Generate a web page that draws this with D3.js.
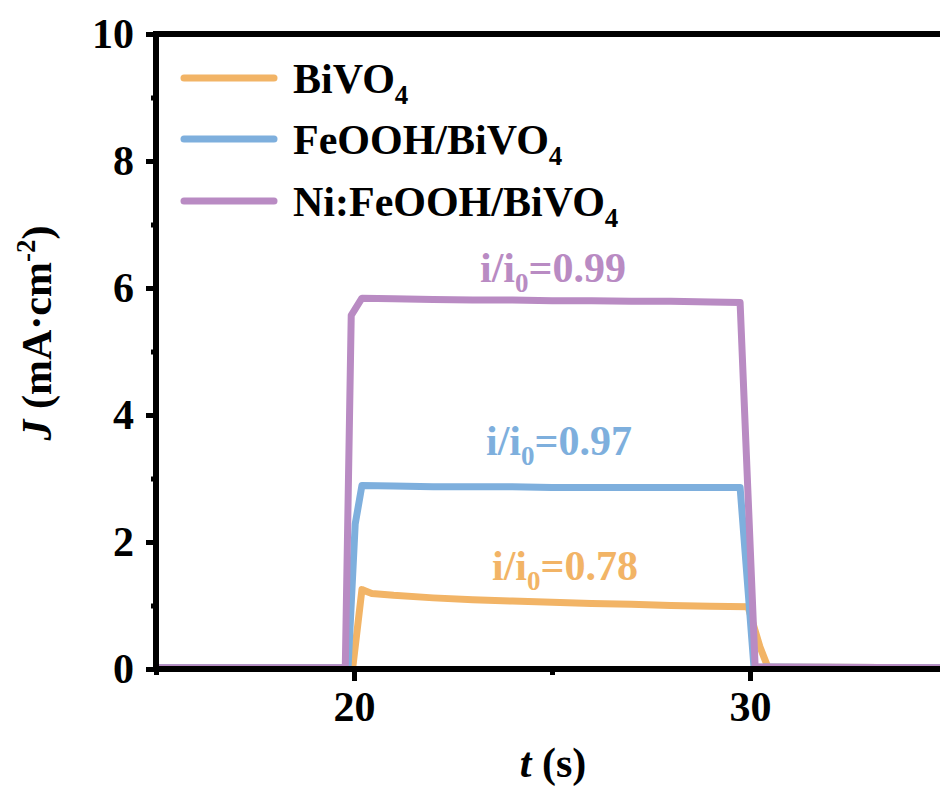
<!DOCTYPE html>
<html>
<head>
<meta charset="utf-8">
<script src="https://cdn.jsdelivr.net/npm/d3@7"></script>
<style>
  html, body { margin: 0; padding: 0; background: #fff; }
  svg { display: block; }
  svg text { font-family: "Liberation Serif", "Times New Roman", Tinos, "DejaVu Serif", serif !important; font-weight: bold; }
</style>
</head>
<body>
<svg id="chart" width="940" height="792"></svg>
<script>
// Chopped photocurrent transients: light on at ~20 s, off at ~30 s
const bivo4 = [
  [15, 0.02], [19.9, 0.02], [19.97, 0.03], [20.2, 1.25], [20.45, 1.19], [21, 1.16],
  [22, 1.12], [23, 1.09], [24, 1.07], [25, 1.05], [26, 1.03], [27, 1.02],
  [28, 1.00], [29, 0.99], [29.95, 0.98], [30.25, 0.35], [30.45, 0.03], [35, 0.02]
];
const feoohBivo4 = [
  [15, 0.02], [19.85, 0.02], [20.03, 2.28], [20.2, 2.89], [21, 2.88], [22, 2.87],
  [23, 2.87], [24, 2.87], [25, 2.86], [26, 2.86], [27, 2.86], [28, 2.86],
  [29, 2.86], [29.75, 2.86], [30.1, 0.03], [35, 0.02]
];
const niFeoohBivo4 = [
  [15, 0.02], [19.78, 0.02], [19.93, 5.57], [20.2, 5.84], [21, 5.83], [22, 5.82],
  [23, 5.81], [24, 5.81], [25, 5.80], [26, 5.80], [27, 5.79], [28, 5.79],
  [29, 5.78], [29.75, 5.77], [30.13, 0.03], [35, 0.02]
];

const seriesNames = ["BiVO4", "FeOOH/BiVO4", "Ni:FeOOH/BiVO4"];
const seriesColors = ["#F2B466", "#7EAFDD", "#B98BC3"];
const retentionLabels = ["0.78", "0.97", "0.99"];
const retentionPos = [[565, 1.4], [559, 3.37], [553, 6.1]];

const yTicks = [0, 2, 4, 6, 8, 10];
const yMinorTicks = [1, 3, 5, 7, 9];
const xTicks = [20, 30];
const xMinorTicks = [15, 25, 35];

const svg = d3.select("#chart");
const x = d3.scaleLinear().domain([15, 35]).range([156, 948]);
const y = d3.scaleLinear().domain([0, 10]).range([669, 34]);

// Data lines (drawn under the axes' spines)
const line = d3.line().x(d => x(d[0])).y(d => y(d[1]));
const allSeries = [bivo4, feoohBivo4, niFeoohBivo4];
svg.append("g").selectAll("path").data(allSeries).join("path")
  .attr("d", line)
  .attr("fill", "none")
  .attr("stroke", (d, i) => seriesColors[i])
  .attr("stroke-width", 7)
  .attr("stroke-linejoin", "round");

// Axes
function styleAxis(g) {
  g.select(".domain").remove();
  g.selectAll(".tick line").attr("stroke", "#000").attr("stroke-width", 5);
  g.selectAll(".tick text").attr("fill", "#000").attr("font-size", 42);
}

svg.append("g").attr("transform", `translate(${x(15)},0)`)
  .call(d3.axisLeft(y).tickValues(yTicks).tickSize(10).tickPadding(12).tickFormat(d3.format("d")))
  .call(styleAxis);
svg.append("g").attr("transform", `translate(${x(15)},0)`)
  .call(d3.axisLeft(y).tickValues(yMinorTicks).tickSize(5).tickFormat(""))
  .call(styleAxis);

svg.append("g").attr("transform", `translate(0,${y(0)})`)
  .call(d3.axisBottom(x).tickValues(xTicks).tickSize(12).tickPadding(10).tickFormat(d3.format("d")))
  .call(styleAxis);
svg.append("g").attr("transform", `translate(0,${y(0)})`)
  .call(d3.axisBottom(x).tickValues(xMinorTicks).tickSize(6).tickFormat(""))
  .call(styleAxis);

// Spines
const spine = svg.append("g").attr("stroke", "#000").attr("stroke-width", 6);
spine.append("line").attr("x1", x(15)).attr("x2", x(15)).attr("y1", y(10) - 3).attr("y2", y(0) + 3);
spine.append("line").attr("x1", x(15) - 3).attr("x2", x(35)).attr("y1", y(0)).attr("y2", y(0));
spine.append("line").attr("x1", x(15) - 3).attr("x2", x(35)).attr("y1", y(10)).attr("y2", y(10));

// Legend
const legend = svg.append("g");
const legendY = [78, 139, 201];
seriesNames.forEach((name, i) => {
  legend.append("line")
    .attr("x1", 184).attr("x2", 274).attr("y1", legendY[i]).attr("y2", legendY[i])
    .attr("stroke", seriesColors[i]).attr("stroke-width", 7).attr("stroke-linecap", "round");
  const t = legend.append("text").attr("x", 293).attr("y", legendY[i] + 15)
    .attr("font-size", 42).attr("fill", "#000");
  const base = name.slice(0, -1);
  t.append("tspan").text(base);
  t.append("tspan").attr("font-size", 27).attr("dy", 11).text("4");
});

// Retention annotations
retentionLabels.forEach((val, i) => {
  const t = svg.append("text")
    .attr("x", retentionPos[i][0]).attr("y", y(retentionPos[i][1]))
    .attr("text-anchor", "middle").attr("font-size", 42).attr("fill", seriesColors[i]);
  t.append("tspan").text("i/i");
  t.append("tspan").attr("font-size", 27).attr("dy", 10).text("0");
  t.append("tspan").attr("dy", -10).text("=" + val);
});

// Axis titles
const yTitle = svg.append("text")
  .attr("transform", "translate(51,333) rotate(-90)")
  .attr("text-anchor", "middle").attr("font-size", 42).attr("fill", "#000");
yTitle.append("tspan").attr("font-style", "italic").text("J");
yTitle.append("tspan").text(" (mA·cm");
yTitle.append("tspan").attr("font-size", 27).attr("dy", -16).text("-2");
yTitle.append("tspan").attr("dy", 16).text(")");

const xTitle = svg.append("text")
  .attr("x", 553).attr("y", 777)
  .attr("text-anchor", "middle").attr("font-size", 42).attr("fill", "#000");
xTitle.append("tspan").attr("font-style", "italic").text("t");
xTitle.append("tspan").text(" (s)");
</script>
</body>
</html>
